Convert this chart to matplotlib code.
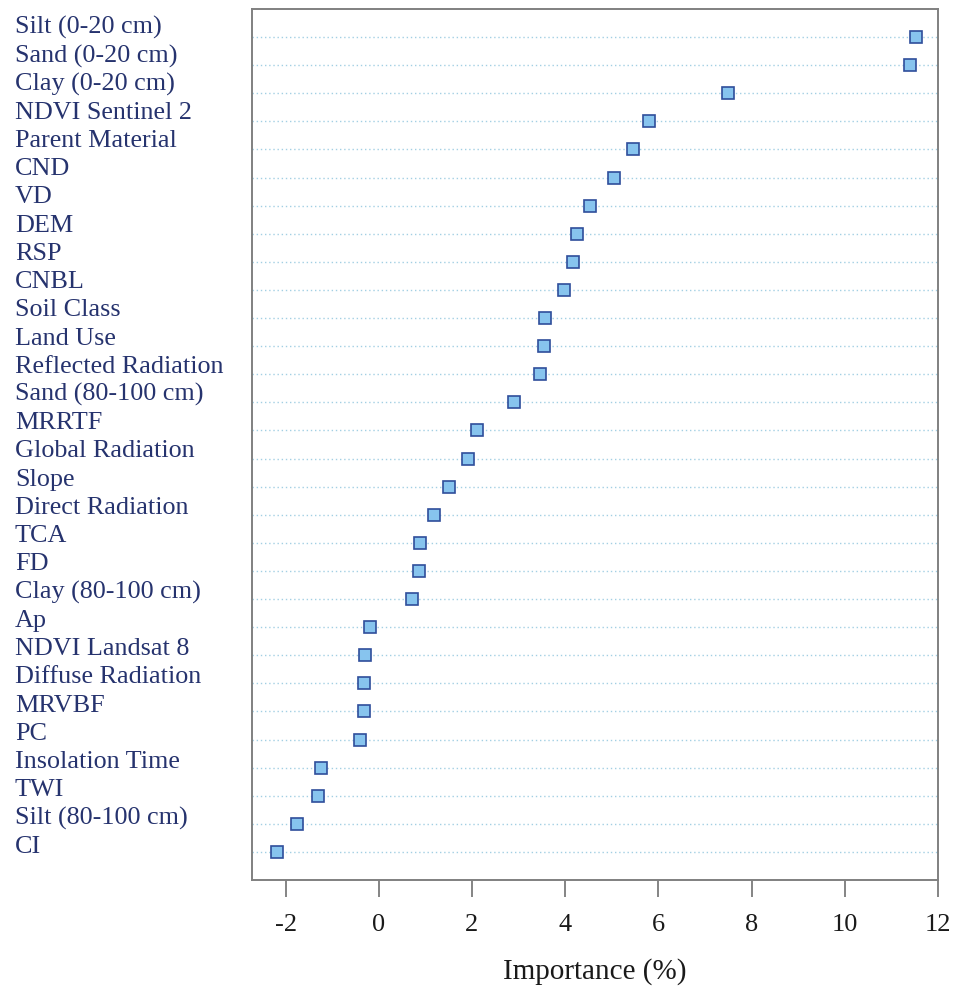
import numpy as np
import matplotlib
matplotlib.use("Agg")
import matplotlib.pyplot as plt
import matplotlib.transforms as mtransforms

# données : importance des variables (%)
variables = ["Silt (0-20 cm)", "Sand (0-20 cm)", "Clay (0-20 cm)", "NDVI Sentinel 2",
             "Parent Material", "CND", "VD", "DEM", "RSP", "CNBL", "Soil Class",
             "Land Use", "Reflected Radiation", "Sand (80-100 cm)", "MRRTF",
             "Global Radiation", "Slope", "Direct Radiation", "TCA", "FD",
             "Clay (80-100 cm)", "Ap", "NDVI Landsat 8", "Diffuse Radiation",
             "MRVBF", "PC", "Insolation Time", "TWI", "Silt (80-100 cm)", "CI"]
importance = [11.53, 11.40, 7.49, 5.80, 5.45, 5.04, 4.54, 4.26, 4.16, 3.97, 3.57,
              3.55, 3.46, 2.90, 2.10, 1.92, 1.51, 1.18, 0.88, 0.87, 0.72, -0.19,
              -0.29, -0.31, -0.32, -0.41, -1.24, -1.31, -1.75, -2.19]
xticks = [-2, 0, 2, 4, 6, 8, 10, 12]

plt.rcParams['font.family'] = ['Liberation Serif', 'DejaVu Serif']

n = len(variables)
y = np.arange(n)

fig = plt.figure(figsize=(9.62, 9.87), dpi=100)
ax = fig.add_axes([0.262, 0.1074, 0.713, 0.8825])

# lignes pointillées horizontales
for yi in y:
    ax.axhline(yi, color='#a3cfe3', lw=1.0, ls=(0, (1, 2)), zorder=1)

ax.plot(importance, y, ls='none', marker='s', ms=8.8, mfc='#87c4ee',
        mec='#2f4e9b', mew=1.2, zorder=3)

ax.set_xlim(-2.72, 12.0)
ax.set_ylim(n, -1)
ax.set_yticks([])
ax.set_xticks(xticks)
ax.set_xticklabels([str(t) for t in xticks])
ax.tick_params(axis='x', length=12, width=1.2, color='#707070', pad=12,
               labelsize=19, labelcolor='#1a1a1a', direction='out')
for s in ax.spines.values():
    s.set_color('#808080')
    s.set_linewidth(1.4)

# étiquettes à gauche, alignées à gauche
trans = mtransforms.blended_transform_factory(fig.transFigure, ax.transData)
for yi, name in zip(y, variables):
    ax.text(15 / 962, yi - 0.15 * (1 - yi / (n - 1)), name, transform=trans,
            ha='left', va='baseline', fontsize=18.8, color='#26336e', clip_on=False)

ax.set_xlabel('Importance (%)', fontsize=21, color='#1a1a1a', labelpad=16)

fig.savefig('out.png', dpi=100)
